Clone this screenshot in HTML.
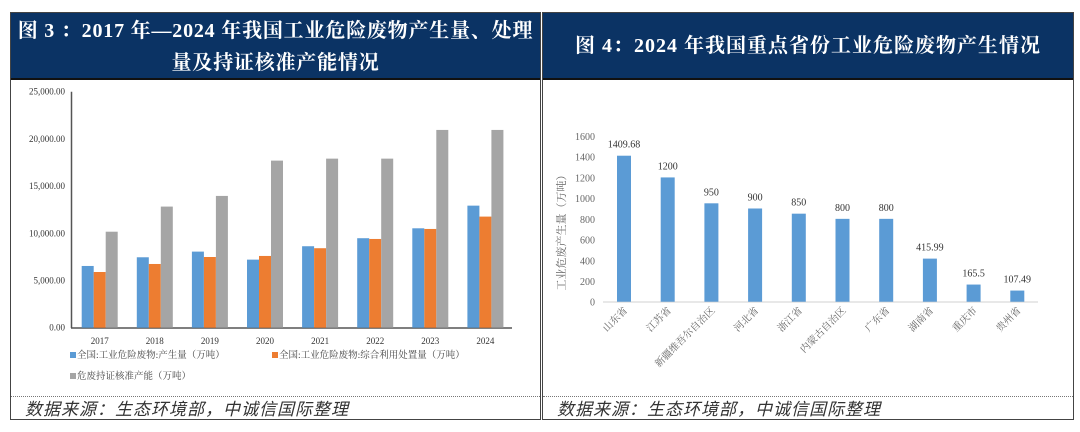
<!DOCTYPE html>
<html><head><meta charset="utf-8"><style>
body{margin:0;background:#fff;width:1080px;height:432px;overflow:hidden;font-family:"Liberation Serif","Noto Serif CJK SC",serif}
.panel{position:absolute;top:12px;height:408px;border:1px solid #444;box-sizing:border-box;background:#fff}
.hdr{position:absolute;left:0;right:0;top:0;height:67px;background:#0b3364;color:#fff;font-weight:bold;font-size:20px;text-align:center;border-bottom:2px solid #111;box-sizing:border-box;white-space:nowrap}
.foot{position:absolute;left:0;right:0;top:383px;border-top:1px dotted #777;height:24px;font-style:italic;font-size:17px;color:#333;padding-left:14px;line-height:26px;letter-spacing:1px;font-family:"Liberation Serif","Noto Sans CJK SC",sans-serif}
svg text{font-family:"Liberation Serif","Noto Serif CJK SC",serif}
</style></head><body>
<div class="panel" style="left:10px;width:531px">
 <div class="hdr" style="line-height:32px;padding-top:2px;letter-spacing:0.8px">图 3 ：2017 年—2024 年我国工业危险废物产生量、处理<br>量及持证核准产能情况</div>
 <div class="foot">数据来源：生态环境部，中诚信国际整理</div>
</div>
<div class="panel" style="left:542px;width:532px">
 <div class="hdr" style="line-height:66px;letter-spacing:1px">图 4：2024 年我国重点省份工业危险废物产生情况</div>
 <div class="foot">数据来源：生态环境部，中诚信国际整理</div>
</div>
<svg id="c" width="1080" height="432" style="position:absolute;left:0;top:0"></svg>
<script>
const years=['2017','2018','2019','2020','2021','2022','2023','2024'];
const genVals=[6540,7460,8060,7210,8630,9480,10530,12930];
const useVals=[5900,6750,7490,7600,8420,9400,10460,11770];
const capVals=[10170,12830,13960,17700,17910,17910,20950,20950];
const yTicks=[0,5000,10000,15000,20000,25000];
const yTickLabels=['0.00','5,000.00','10,000.00','15,000.00','20,000.00','25,000.00'];
const provinces=['山东省','江苏省','新疆维吾尔自治区','河北省','浙江省','内蒙古自治区','广东省','湖南省','重庆市','贵州省'];
const provVals=[1409.68,1200,950,900,850,800,800,415.99,165.5,107.49];
const provLabels=['1409.68','1200','950','900','850','800','800','415.99','165.5','107.49'];
const rTicks=[0,200,400,600,800,1000,1200,1400,1600];

const svg=document.getElementById('c');const NS='http://www.w3.org/2000/svg';
function mk(t,a,txt){const e=document.createElementNS(NS,t);for(const k in a)e.setAttribute(k,a[k]);if(txt!=null)e.textContent=txt;svg.appendChild(e);return e;}
// left chart
const ly=v=>327.7-v/5000*47.2, lx=i=>99.7+i*55.1;
yTicks.forEach((v,i)=>{const t=mk('text',{x:65,y:ly(v)+3,'text-anchor':'end','font-size':9,fill:'#333'},yTickLabels[i]);
});
const ax=mk('line',{x1:71.5,y1:ly(25000),x2:71.5,y2:328,stroke:'#555','stroke-width':1.5});

const ax2=mk('line',{x1:71,y1:328,x2:512,y2:328,stroke:'#555','stroke-width':1.5});

const series=[[genVals,'#5b9bd5',-18],[useVals,'#ed7d31',-6],[capVals,'#a5a5a5',6]];
years.forEach((y,i)=>{
 series.forEach(([vals,col,off],s)=>{const b=mk('rect',{x:lx(i)+off,y:ly(vals[i]),width:12,height:327.7-ly(vals[i]),fill:col});
 });
 const t=mk('text',{x:lx(i),y:344,'text-anchor':'middle','font-size':9,fill:'#333'},y);
 
});
const leg=[[70,358,'#5b9bd5','全国:工业危险废物:产生量（万吨）'],[272,358,'#ed7d31','全国:工业危险废物:综合利用处置量（万吨）'],[70,379,'#a5a5a5','危废持证核准产能（万吨）']];
leg.forEach(([x,y,c,s])=>{const r=mk('rect',{x:x,y:y-6,width:6,height:6,fill:c});
const t=mk('text',{x:x+7,y:y,'font-size':9.5,fill:'#444'},s);});
// right chart
const ry=v=>301.7-v/1600*165.7, rx=i=>624+i*43.7;
rTicks.forEach(v=>{const t=mk('text',{x:595,y:ry(v)+4,'text-anchor':'end','font-size':10,fill:'#666'},String(v));
});
const ra=mk('line',{x1:603,y1:302,x2:1038,y2:302,stroke:'#d0d0d0','stroke-width':1});

const yt=mk('text',{x:565,y:230,'text-anchor':'middle','font-size':11,fill:'#666',transform:'rotate(-90 565 230)'},'工业危废产生量（万吨）');

provinces.forEach((p,i)=>{
 const b=mk('rect',{x:rx(i)-7,y:ry(provVals[i]),width:14,height:301.7-ry(provVals[i]),fill:'#5b9bd5'});
 
 const l=mk('text',{x:rx(i),y:ry(provVals[i])-8,'text-anchor':'middle','font-size':10,fill:'#333'},provLabels[i]);
 
 const t=mk('text',{x:rx(i)+4,y:311,'text-anchor':'end','font-size':10,fill:'#666',transform:`rotate(-45 ${rx(i)+4} 311)`},p);
 
});
</script>
</body></html>
